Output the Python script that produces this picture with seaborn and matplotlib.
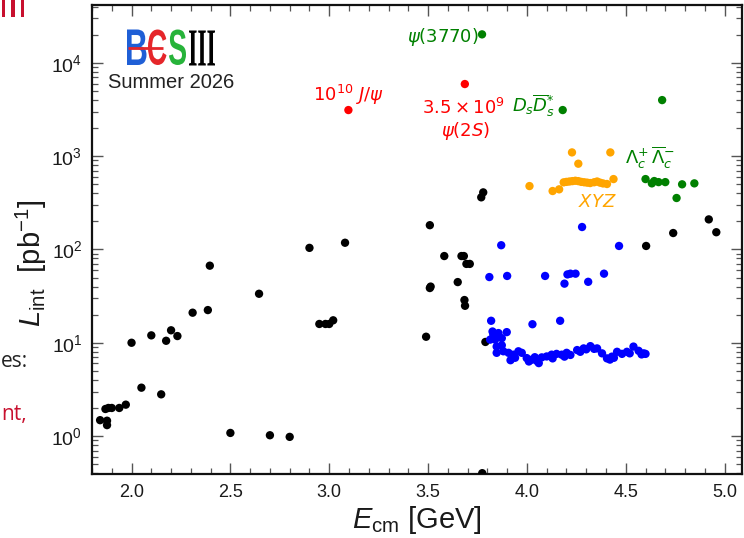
import matplotlib
matplotlib.use("Agg")
import numpy as np
import pandas as pd
import matplotlib.pyplot as plt
import seaborn as sns
from matplotlib.textpath import TextPath
from matplotlib.patches import PathPatch
from matplotlib.font_manager import FontProperties
from matplotlib.transforms import Affine2D
from matplotlib.lines import Line2D
from matplotlib.ticker import LogLocator, MultipleLocator, NullFormatter

# ---------------------------------------------------------------- data
# Integrated luminosity (pb^-1) versus centre-of-mass energy (GeV)
other_E = [1.841, 1.868, 1.876, 1.876, 1.883, 1.900, 1.938, 1.971, 2.000, 2.050,
           2.100, 2.150, 2.175, 2.200, 2.232, 2.309, 2.386, 2.396, 2.500, 2.645,
           2.700, 2.800, 2.900, 2.950, 2.981, 3.000, 3.020, 3.080, 3.490, 3.509,
           3.513, 3.509, 3.582, 3.650, 3.669, 3.681, 3.684, 3.687, 3.694, 3.711,
           3.769, 3.779, 3.774, 3.790, 4.603, 4.740, 4.920, 4.958]
other_L = [1.48, 1.95, 1.46, 1.31, 2.0, 2.0, 2.0, 2.17, 10.0, 3.3,
           12.0, 2.8, 10.5, 13.6, 11.8, 21.0, 22.4, 67.0, 1.08, 33.5,
           1.02, 0.98, 104, 15.9, 15.9, 15.9, 17.4, 118, 11.6, 38.6,
           40.0, 182, 85, 44.7, 85, 85, 28.7, 24.9, 70, 70,
           362, 409, 0.40, 10.2, 109, 150, 210, 153]

rscan_E = [3.810, 3.870, 3.900, 4.092, 4.205, 4.220, 4.246, 4.190, 4.279, 4.310,
           4.390, 4.466, 3.819, 4.028, 4.168,
           3.826, 3.830, 3.856, 3.898, 3.814, 3.839, 3.873, 3.847, 3.873, 3.847,
           3.881, 3.907, 3.932, 3.957, 3.974, 3.999, 4.024, 4.050, 4.075, 4.100,
           4.125, 4.150, 4.176, 4.201, 4.220, 4.254, 4.287, 4.321, 4.355, 4.380,
           4.405, 4.430, 4.456, 4.481, 4.506, 4.539, 4.565, 4.590,
           3.917, 3.940, 4.010, 4.060, 4.040, 4.130, 4.190, 4.270, 4.300, 4.340,
           4.420, 4.440, 4.520, 4.580, 4.600]
rscan_L = [50.6, 111, 52, 52, 54, 55, 55, 43, 174, 45,
           55, 109, 17.2, 15.8, 17.2,
           13.2, 12.2, 12.7, 13.0, 10.8, 10.8, 11.2, 9.1, 9.4, 7.8,
           8.1, 7.8, 7.45, 8.1, 7.8, 6.85, 6.58, 6.4, 6.97, 7.13,
           7.45, 7.6, 7.45, 7.8, 7.4, 8.35, 8.7, 9.2, 8.7, 7.7,
           6.8, 7.1, 8.0, 7.6, 8.0, 9.1, 8.2, 7.7,
           6.5, 6.9, 6.3, 6.05, 7.0, 6.8, 7.1, 8.0, 8.5, 8.6,
           6.6, 6.9, 7.7, 7.5, 7.6]

xyz_E = [4.013, 4.130, 4.163, 4.228, 4.422, 4.260, 4.438,
         4.186, 4.200, 4.215, 4.230, 4.245, 4.260, 4.275, 4.290, 4.305, 4.320,
         4.340, 4.355, 4.370, 4.385, 4.405]
xyz_L = [478, 423, 441, 1097, 1097, 830, 568,
         524, 530, 535, 540, 545, 540, 530, 525, 520, 515,
         525, 535, 520, 510, 503]

charm_E = [3.773, 4.181, 4.684, 4.600, 4.632, 4.644, 4.666, 4.700, 4.785, 4.847, 4.757]
charm_L = [20200, 3120, 3990, 568, 511, 541, 527, 527, 499, 511, 356]

charmonium_E = [3.097, 3.686]
charmonium_L = [3120, 5930]

x_ticks = [2.0, 2.5, 3.0, 3.5, 4.0, 4.5, 5.0]

# ---------------------------------------------------------------- style
sns.set_theme(style="ticks")
plt.rcParams["font.family"] = ["Liberation Sans", "DejaVu Sans"]
plt.rcParams["mathtext.fontset"] = "custom"
plt.rcParams["mathtext.rm"] = "Liberation Sans"
plt.rcParams["mathtext.it"] = "Liberation Sans:italic"
plt.rcParams["mathtext.bf"] = "Liberation Sans:bold"

RED = "#ff0000"
GREEN = "#008000"
BLUE = "#0000ff"
ORANGE = "#ffa500"
CRIMSON = "#c8102e"

W, H = 744, 538
fig = plt.figure(figsize=(W / 100, H / 100), dpi=100)
ax = fig.add_axes([92 / W, (H - 474) / H, 650 / W, 469 / H])

frames = [
    pd.DataFrame({"E": other_E, "L": other_L, "sample": "other"}),
    pd.DataFrame({"E": rscan_E, "L": rscan_L, "sample": "rscan"}),
    pd.DataFrame({"E": xyz_E, "L": xyz_L, "sample": "xyz"}),
    pd.DataFrame({"E": charm_E, "L": charm_L, "sample": "charm"}),
    pd.DataFrame({"E": charmonium_E, "L": charmonium_L, "sample": "charmonium"}),
]
df = pd.concat(frames, ignore_index=True)
palette = {"other": "black", "rscan": BLUE, "xyz": ORANGE,
           "charm": GREEN, "charmonium": RED}

sns.scatterplot(data=df, x="E", y="L", hue="sample", palette=palette,
                s=36, linewidth=0, legend=False, ax=ax, zorder=3, clip_on=True)

ax.set_yscale("log")
ax.set_xlim(1.80, 5.088)
ax.set_ylim(0.392, 41700)
ax.set_xticks(x_ticks)
ax.xaxis.set_minor_locator(MultipleLocator(0.1))
ax.yaxis.set_major_locator(LogLocator(base=10, numticks=20))
ax.yaxis.set_minor_locator(LogLocator(base=10, subs=np.arange(2, 10), numticks=50))
ax.yaxis.set_minor_formatter(NullFormatter())

ax.tick_params(which="both", direction="in", top=True, right=True,
               color="#555555", labelcolor="#1a1a1a")
ax.tick_params(which="major", length=8, width=1.0, pad=7)
ax.tick_params(axis="x", which="major", labelsize=13)
ax.tick_params(axis="y", which="major", labelsize=14)
ax.tick_params(which="minor", length=4.5, width=0.9)
for sp in ax.spines.values():
    sp.set_linewidth(1.6)
    sp.set_color("#111111")

ax.set_xlabel(r"$E_{\rm cm}$ [GeV]", fontsize=21, color="#1a1a1a")
ax.set_ylabel(r"$L_{\rm int}$  [pb$^{-1}$]", fontsize=21, color="#1a1a1a")
ax.xaxis.set_label_coords(0.5, -0.064)
ax.yaxis.set_label_coords(-0.066, 0.45)

# ---------------------------------------------------------------- annotations
ann = dict(fontsize=13, math_fontfamily="dejavusans", family="DejaVu Sans")
ax.text(3.755, 19000, r"$\psi(3770)$", color=GREEN, ha="right", va="center", **ann)
ax.text(3.096, 3890, r"$10^{10}\ J/\psi$", color=RED, ha="center", va="baseline", **ann)
ax.text(3.467, 2826, r"$3.5\times10^{9}$", color=RED, ha="left", va="baseline", **ann)
ax.text(3.689, 1642, r"$\psi(2S)$", color=RED, ha="center", va="baseline", **ann)
ax.text(3.925, 2993, r"$D_s\overline{D}_s^{*}$", color=GREEN, ha="left", va="baseline", **ann)
ax.text(4.497, 823, r"$\Lambda_c^{+}\,\overline{\Lambda}_c^{-}$", color=GREEN,
        ha="left", va="baseline", **ann)
ax.text(4.355, 287, r"$XYZ$", color=ORANGE, ha="center", va="baseline", **ann)


# ---------------------------------------------------------------- BESIII logo
def glyph(text, box, color, family="Liberation Sans", weight="bold"):
    """Draw text squeezed into a pixel box (x0, x1, top, bottom) of the figure."""
    x0, x1, y0, y1 = box
    path = TextPath((0, 0), text, size=50,
                    prop=FontProperties(family=family, weight=weight))
    ext = path.get_extents()
    tr = (Affine2D().translate(-ext.x0, -ext.y0)
          .scale((x1 - x0) / ext.width / W, (y1 - y0) / ext.height / H)
          .translate(x0 / W, 1 - y1 / H) + fig.transFigure)
    fig.add_artist(PathPatch(path, facecolor=color, edgecolor="none", transform=tr))


glyph("B", (127, 146.5, 29.5, 65), "#1f5fd6")
glyph("C", (148, 166.5, 29.5, 65), "#e5262a")
glyph("S", (169, 186, 29.5, 65), "#27b33a")
glyph("III", (189, 215, 30.5, 65.5), "#000000", family="Liberation Serif")
fig.add_artist(Line2D([128 / W, 163 / W], [1 - 47.8 / H] * 2,
                      color="#e5262a", lw=2.0, solid_capstyle="butt"))
fig.text(171 / W, 1 - 83 / H, "Summer 2026", fontsize=14.5, color="#222222",
         ha="center", va="center")

# ---------------------------------------------------------------- slide margin text
for xpos in (3.5, 13, 22.5):
    glyph("I", (xpos - 1.6, xpos + 1.6, 0, 17), CRIMSON, family="Open Sans",
          weight="normal")
fig.text(1 / W, 1 - 367 / H, "es:", fontsize=15, color="#222222", family="Open Sans",
         ha="left", va="baseline")
fig.text(1 / W, 1 - 420 / H, "nt,", fontsize=15, color=CRIMSON, family="Open Sans",
         ha="left", va="baseline")

fig.savefig("out.png", dpi=100)
